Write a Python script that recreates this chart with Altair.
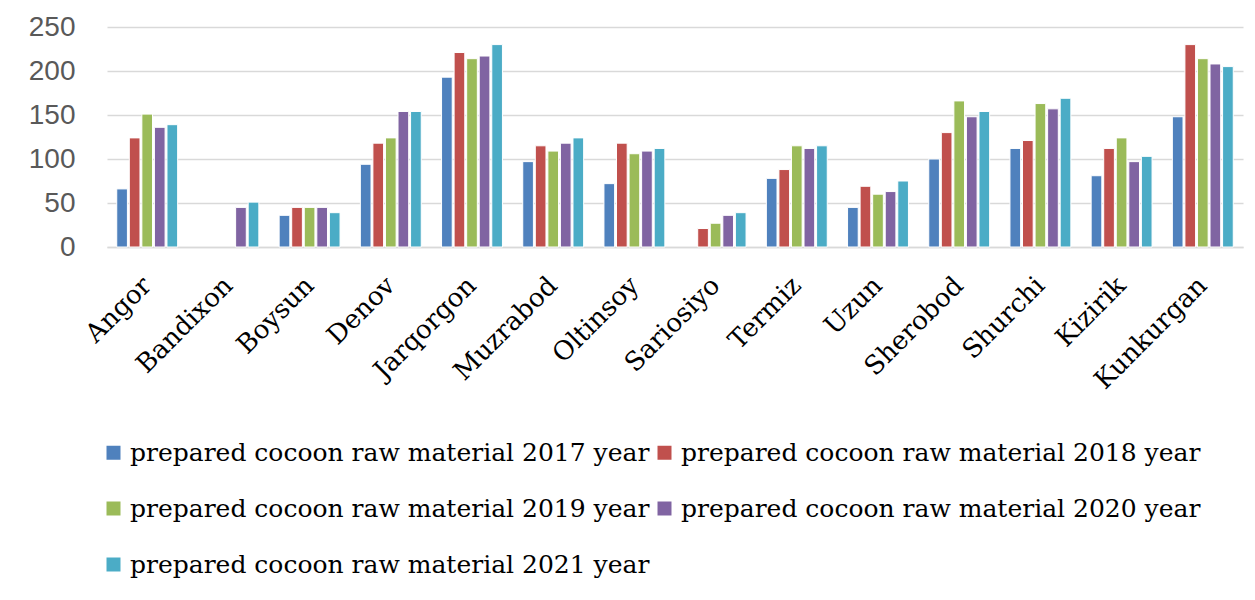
import altair as alt
import pandas as pd

districts = ["Angor", "Bandixon", "Boysun", "Denov", "Jarqorgon", "Muzrabod", "Oltinsoy",
             "Sariosiyo", "Termiz", "Uzun", "Sherobod", "Shurchi", "Kizirik", "Kunkurgan"]
series_names = [
    "prepared cocoon raw material 2017 year",
    "prepared cocoon raw material 2018 year",
    "prepared cocoon raw material 2019 year",
    "prepared cocoon raw material 2020 year",
    "prepared cocoon raw material 2021 year",
]
v2017 = [66, None, 36, 94, 193, 97, 72, None, 78, 45, 100, 112, 81, 148]
v2018 = [124, None, 45, 118, 221, 115, 118, 21, 88, 69, 130, 121, 112, 230]
v2019 = [151, None, 45, 124, 214, 109, 106, 27, 115, 60, 166, 163, 124, 214]
v2020 = [136, 45, 45, 154, 217, 118, 109, 36, 112, 63, 148, 157, 97, 208]
v2021 = [139, 51, 39, 154, 230, 124, 112, 39, 115, 75, 154, 169, 103, 205]
colors = ["#4F81BD", "#C0504D", "#9BBB59", "#8064A2", "#4BACC6"]

rows = []
for s, vals in zip(series_names, [v2017, v2018, v2019, v2020, v2021]):
    for d, v in zip(districts, vals):
        if v is not None:
            rows.append({"district": d, "series": s, "value": v})
df = pd.DataFrame(rows)

chart = alt.Chart(df).mark_bar(stroke="white", strokeWidth=1).encode(
    x=alt.X("district:N", sort=districts, title=None,
            scale=alt.Scale(paddingInner=0.25, paddingOuter=0.12),
            axis=alt.Axis(labelAngle=-45, labelAlign="right", labelBaseline="middle",
                          labelFont="DejaVu Serif", labelFontSize=26, labelColor="#000000",
                          labelPadding=34, ticks=False, domainColor="#D9D9D9", domainWidth=1.5)),
    xOffset=alt.XOffset("series:N", sort=series_names, scale=alt.Scale(paddingInner=0.15)),
    y=alt.Y("value:Q", title=None,
            scale=alt.Scale(domain=[0, 250]),
            axis=alt.Axis(values=[0, 50, 100, 150, 200, 250], ticks=False, domain=False,
                          labelFont="Liberation Sans", labelFontSize=28, labelColor="#595959",
                          labelPadding=32, gridColor="#D9D9D9", gridWidth=1.5)),
    color=alt.Color("series:N", sort=series_names,
                    scale=alt.Scale(domain=series_names, range=colors),
                    legend=alt.Legend(title=None, orient="none", legendX=-6, legendY=413,
                                      direction="horizontal",
                                      columns=2, symbolType="square", symbolSize=196,
                                      symbolStrokeWidth=0, labelFont="DejaVu Serif",
                                      labelFontSize=25, labelColor="#000000", labelLimit=0,
                                      rowPadding=30, columnPadding=2, symbolOffset=0,
                                      labelOffset=4)),
).properties(
    width=1136, height=220,
    autosize=alt.AutoSizeParams(type="none"),
    padding={"left": 107, "top": 27, "right": 12, "bottom": 353},
).configure(background="white").configure_view(stroke=None)

chart.save("out.html", embed_options={"renderer": "svg", "actions": False})
